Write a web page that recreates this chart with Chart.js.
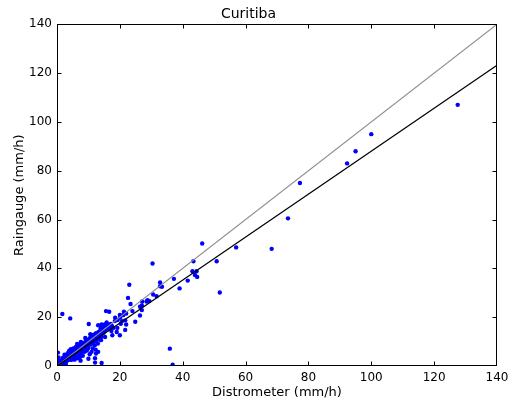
<!DOCTYPE html>
<html>
<head>
<meta charset="utf-8">
<script src="https://cdn.jsdelivr.net/npm/chart.js@4.4.1/dist/chart.umd.min.js"></script>
<style>
  html, body { margin: 0; padding: 0; background: #fff; }
  #wrap { width: 510px; height: 400px; }
</style>
</head>
<body>
<div id="wrap"><canvas id="chart" width="510" height="400"></canvas></div>
<script>
// Curitiba - raingauge vs distrometer scatter with 1:1 and fit lines
const axisMin = 0, axisMax = 140, axisStep = 20;

// scatter points [distrometer, raingauge]
const spreadPoints = [
  [127.5,107],[100,95],[95,88],[92.3,83],[77.3,75],[73.5,60.5],[68.3,48],[57,48.6],[46.2,50.2],
  [51.8,30.1],[50.8,42.9],[43.4,42.9],[43.1,38.8],[44.4,38.8],[43.9,37.3],[44.6,36.5],[41.6,35],
  [39,31.8],[37.2,35.7],[35.9,7.1],[36.8,0.5],[30.4,42],[32.8,34.2],[32.8,32.7],[33.4,32.5],
  [30.6,29.3],[31.7,28.6],[29.4,26.6],[28.5,26.4],[27.1,26.4],[28.8,27],[26.4,24.3],[26.4,20.7],
  [23,33.3],[22.6,27.9],[23.4,25.4],[27,24.8],[27,22.9],[24,22.5],[21.3,22.2],[22,21.5],[21.1,20.9],
  [16.6,22.2],[20.1,19.8],[19.3,18.8],[18.4,18.4],[20.7,18.4],[21.7,18.7],[20.3,17.3],[22,17],
  [24.9,18.1],[15.8,17.8],[15.2,17],[14.3,16.1],[13.9,15.4],[16.9,15.6],[17.9,15.6],[19.2,15.6],
  [17.3,14.3],[19,13.9],[21.7,14.8],[17.6,12.6],[14,13.7],[14,10.6],[14.2,1.2],[1.7,21.3],[4.2,19.5],
  [10.1,17.2],[15.6,22.5],[18.5,19.8],[20,20.9],[12.1,1.4],[10,8.5],[9.1,6.7],[11,5.8],[12.3,6.7],
  [12.1,3.2],[10,3],[5.7,4.4],[7.3,3.7],[13.1,16.7],[14.2,17],[15.8,16.7],[15.3,11.9],[14,13.3],
  [11.6,9.9],[12.4,5.1],[13.1,5.8],[20,12.6]
];
const clusterPoints = [
  [0.2,0.1],[0.3,0.4],[0.5,0.2],[0.6,0.7],[0.8,0.5],[1,1.1],[1,0.6],[1.2,1.5],[1.3,0.9],[1.5,1.2],
  [1.6,2],[1.8,1.4],[2,1.8],[2,2.5],[2.2,1.2],[2.3,2.9],[2.5,2.2],[2.6,1.6],[2.8,3.3],[3,2.6],
  [3,1.9],[3.2,3.8],[3.3,3],[3.5,2.4],[3.6,4.3],[3.8,3.5],[3.9,6.3],[4,2.8],[4.1,4.8],[4.3,3.9],
  [4.4,6.9],[4.5,2.5],[4.6,5.2],[4.8,4.2],[5,5.8],[5,3.3],[5.2,7.2],[5.3,4.7],[5.5,6.2],[5.6,2.6],
  [5.8,5.3],[6,7.8],[6,4],[6.2,6.6],[6.3,5.7],[6.5,3.2],[6.6,8.2],[6.8,6.1],[7,7.2],[7,4.9],
  [7.2,8.6],[7.4,6.5],[7.5,2.2],[7.7,7.5],[7.8,5.5],[8,8.9],[8,6.8],[8.2,4.2],[8.4,8],[8.5,7.2],
  [8.7,9.5],[8.8,5.8],[9,8.4],[9.2,7.6],[9.3,10.4],[9.5,6.3],[9.6,9],[9.8,8.1],[10,10.9],[10,7.4],
  [10.2,9.6],[10.4,4.8],[10.5,11.5],[10.7,8.8],[10.8,10.2],[11,12.3],[11.2,9.4],[11.4,7.2],[11.5,11],
  [11.7,12.8],[11.9,10.1],[12,8.5],[12.2,11.7],[12.4,13.4],[12.6,10.6],[12.8,12.2],[13,9.2],
  [13.2,13.9],[13.4,11.4],[13.6,12.7],[13.8,14.6],[14.2,12],[14.5,15.3],[14.8,13.6],[15.1,14.4],
  [15.5,16.2],[15.9,14.9],[16.3,16.8],[16.7,15.8],[17.1,17.2],[17.5,16.4],[1.4,0.3],[2.8,0.8],
  [0.4,1.5],[0.9,2.2],[1.9,3.4],[3.4,5.2],[2.4,4.6],[6.4,9],[7.6,9.9],[9,11.5],[10.6,13],
  [0.3,5.5],[0.5,3.5],[1,2.3]
];

// reference lines: 1:1 and fitted
const oneToOneX = [0, 140], oneToOneY = [0, 140];
const fitX = [0, 140], fitY = [0, 123.2];

const FONT = 'DejaVu Sans';
const toXY = arr => arr.map(p => ({ x: p[0], y: p[1] }));
const pairXY = (xs, ys) => xs.map((x, i) => ({ x: x, y: ys[i] }));

// matplotlib-ish frame with inward ticks on all four sides
const framePlugin = {
  id: 'frame',
  afterDraw(chart){
    const { ctx, chartArea: a, scales } = chart;
    const L = Math.round(a.left) + 0.5, R = Math.round(a.right) - 0.5;
    const T = Math.round(a.top) + 0.5, B = Math.round(a.bottom) - 0.5;
    const clamp = (v, lo, hi) => Math.min(hi, Math.max(lo, v));
    ctx.save();
    ctx.strokeStyle = '#000'; ctx.lineWidth = 1;
    ctx.strokeRect(L, T, R - L, B - T);
    ctx.beginPath();
    scales.x.ticks.forEach(t => {
      const px = clamp(Math.round(scales.x.getPixelForValue(t.value)) + 0.5, L, R);
      ctx.moveTo(px, B); ctx.lineTo(px, B - 4);
      ctx.moveTo(px, T); ctx.lineTo(px, T + 4);
    });
    scales.y.ticks.forEach(t => {
      const py = clamp(Math.round(scales.y.getPixelForValue(t.value)) + 0.5, T, B);
      ctx.moveTo(L, py); ctx.lineTo(L + 4, py);
      ctx.moveTo(R, py); ctx.lineTo(R - 4, py);
    });
    ctx.stroke();
    ctx.restore();
  }
};

new Chart(document.getElementById('chart').getContext('2d'), {
  type: 'scatter',
  data: {
    datasets: [
      { data: toXY(clusterPoints.concat(spreadPoints)), backgroundColor: '#0000ff', borderWidth: 0, pointRadius: 2.2, order: 3 },
      { type: 'line', data: pairXY(oneToOneX, oneToOneY), borderColor: '#8c8c8c', borderWidth: 1.1, pointRadius: 0, fill: false, order: 2 },
      { type: 'line', data: pairXY(fitX, fitY), borderColor: '#000000', borderWidth: 1.2, pointRadius: 0, fill: false, order: 1 }
    ]
  },
  options: {
    responsive: false, animation: false,
    layout: { padding: { left: 0, right: 13, top: 0, bottom: 0 } },
    plugins: {
      legend: { display: false }, tooltip: { enabled: false },
      title: { display: true, text: 'Curitiba', color: '#000', font: { family: FONT, size: 14, weight: 'normal' }, padding: { top: 6, bottom: 1.5 } }
    },
    scales: {
      x: {
        type: 'linear', min: axisMin, max: axisMax,
        ticks: { stepSize: axisStep, color: '#000', font: { family: FONT, size: 12 }, padding: 5, maxRotation: 0 },
        grid: { display: false, drawTicks: false }, border: { display: false },
        title: { display: true, text: 'Distrometer (mm/h)', color: '#000', font: { family: FONT, size: 13 }, padding: { top: 0, bottom: 0 } },
        afterFit(s){ s.height = 34; s.paddingLeft = 0; s.paddingRight = 0; }
      },
      y: {
        type: 'linear', min: axisMin, max: axisMax,
        ticks: { stepSize: axisStep, color: '#000', font: { family: FONT, size: 12 }, padding: 5 },
        grid: { display: false, drawTicks: false }, border: { display: false },
        title: { display: true, text: 'Raingauge (mm/h)', color: '#000', font: { family: FONT, size: 13 }, padding: { top: 12, bottom: 0 } },
        afterFit(s){ s.width = 57; s.paddingTop = 0; s.paddingBottom = 0; }
      }
    }
  },
  plugins: [framePlugin]
});
</script>
</body>
</html>
